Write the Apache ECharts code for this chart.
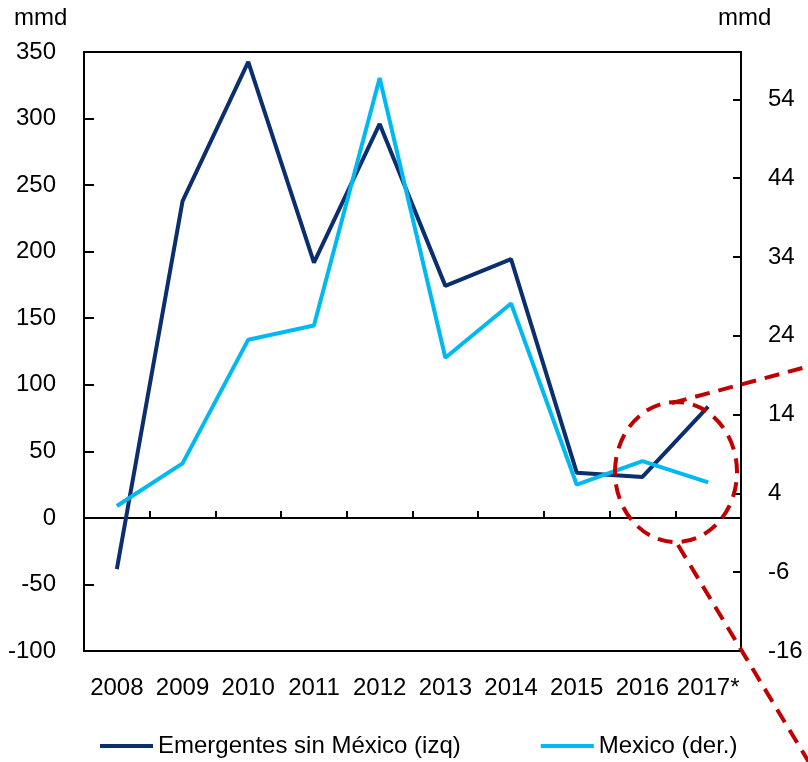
<!DOCTYPE html>
<html>
<head>
<meta charset="utf-8">
<script src="https://cdn.jsdelivr.net/npm/echarts@6/dist/echarts.min.js"></script>
<style>
  html, body { margin: 0; padding: 0; background: #fff; }
  #chart { width: 808px; height: 762px; }
</style>
</head>
<body>
<div id="chart"></div>
<script>
const years = ["2008", "2009", "2010", "2011", "2012", "2013", "2014", "2015", "2016", "2017*"];
const emergentes = [-38.5, 238, 342.6, 191.8, 296, 174.3, 194.4, 34, 30.8, 83.6];
const mexico = [2.4, 7.8, 23.5, 25.3, 56.7, 21.2, 28.1, 5.1, 8.1, 5.4];
const rightTicks = [-16, -6, 4, 14, 24, 34, 44, 54];

const FONT = "'Liberation Sans', Arial, sans-serif";
const NAVY = "#0b2f6e";
const CYAN = "#00b9f0";
const RED = "#c00000";

const chart = echarts.init(document.getElementById("chart"), null, { renderer: "canvas" });

const axisText = { color: "#000", fontFamily: FONT, fontSize: 24 };

chart.setOption({
  backgroundColor: "#fff",
  animation: false,
  grid: {
    left: 84, right: 67, top: 52, bottom: 111,
    show: true, borderColor: "#000", borderWidth: 2, backgroundColor: "transparent"
  },
  legend: {
    left: 95, top: 729,
    itemWidth: 53, itemHeight: 4, itemGap: 80,
    icon: "rect",
    textStyle: axisText,
    data: ["Emergentes sin México (izq)", "Mexico (der.)"]
  },
  xAxis: [
    {
      type: "category", data: years, boundaryGap: true,
      axisLine: { show: true, onZero: false, lineStyle: { color: "#000", width: 2 } },
      axisTick: { show: false },
      axisLabel: { ...axisText, interval: 0, margin: 25 }
    },
    {
      type: "category", data: years, boundaryGap: true, position: "bottom",
      axisLine: { show: true, onZero: true, onZeroAxisIndex: 0, lineStyle: { color: "#000", width: 2 } },
      axisTick: { show: true, inside: true, length: 7, lineStyle: { color: "#000", width: 2 } },
      axisLabel: { show: false }
    }
  ],
  yAxis: [
    {
      type: "value", min: -100, max: 350, interval: 50,
      axisLine: { show: true, lineStyle: { color: "#000", width: 2 } },
      axisTick: { show: true, inside: true, length: 10, lineStyle: { color: "#000", width: 2 } },
      axisLabel: { ...axisText, margin: 28 },
      splitLine: { show: false }
    },
    {
      type: "value", min: -16, max: 60,
      axisLine: { show: true, lineStyle: { color: "#000", width: 2 } },
      axisTick: { show: true, inside: true, length: 8, customValues: rightTicks, lineStyle: { color: "#000", width: 2 } },
      axisLabel: { ...axisText, margin: 27, customValues: rightTicks },
      splitLine: { show: false }
    }
  ],
  series: [
    {
      name: "Emergentes sin México (izq)", type: "line", data: emergentes,
      xAxisIndex: 0, yAxisIndex: 0, symbol: "none",
      lineStyle: { color: NAVY, width: 4 }, itemStyle: { color: NAVY }
    },
    {
      name: "Mexico (der.)", type: "line", data: mexico,
      xAxisIndex: 0, yAxisIndex: 1, symbol: "none",
      lineStyle: { color: CYAN, width: 4 }, itemStyle: { color: CYAN }
    }
  ],
  graphic: [
    { type: "text", left: 14, top: 6, style: { text: "mmd", font: "24px " + FONT, fill: "#000" } },
    { type: "text", left: 718, top: 6, style: { text: "mmd", font: "24px " + FONT, fill: "#000" } },
    {
      type: "ellipse", z: 100,
      shape: { cx: 676, cy: 472, rx: 61, ry: 70 },
      style: { fill: "none", stroke: RED, lineWidth: 4, lineDash: [15, 9] }
    },
    {
      type: "line", z: 100,
      shape: { x1: 672, y1: 403, x2: 810, y2: 366 },
      style: { stroke: RED, lineWidth: 4, lineDash: [15, 9] }
    },
    {
      type: "line", z: 100,
      shape: { x1: 678, y1: 545, x2: 810, y2: 764 },
      style: { stroke: RED, lineWidth: 4, lineDash: [15, 9] }
    }
  ]
});
</script>
</body>
</html>
